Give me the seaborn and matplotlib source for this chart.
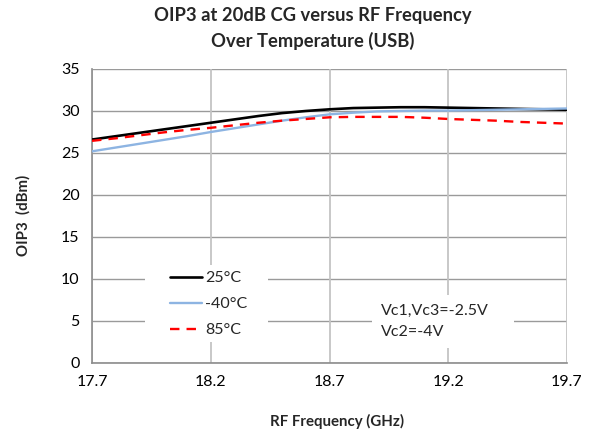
import matplotlib
matplotlib.use("Agg")
import matplotlib.pyplot as plt
import seaborn as sns
import pandas as pd
from matplotlib.patches import Rectangle
from matplotlib.ticker import MultipleLocator

freq = [17.7, 17.8, 17.9, 18.0, 18.1, 18.2, 18.3, 18.4, 18.5, 18.6, 18.7,
        18.8, 18.9, 19.0, 19.1, 19.2, 19.3, 19.4, 19.5, 19.6, 19.7]
oip3_25c = [26.6, 27.0, 27.4, 27.8, 28.2, 28.6, 29.0, 29.4, 29.75, 30.0, 30.2,
            30.35, 30.4, 30.45, 30.45, 30.4, 30.35, 30.3, 30.25, 30.2, 30.15]
oip3_m40c = [25.2, 25.65, 26.1, 26.55, 27.0, 27.5, 27.95, 28.4, 28.85, 29.25, 29.6,
             29.8, 29.95, 30.0, 30.05, 30.05, 30.1, 30.15, 30.2, 30.25, 30.3]
oip3_85c = [26.45, 26.75, 27.1, 27.45, 27.75, 28.0, 28.3, 28.6, 28.85, 29.05, 29.25,
            29.3, 29.3, 29.3, 29.2, 29.05, 28.95, 28.85, 28.7, 28.6, 28.5]
labels = ["25°C", "-40°C", "85°C"]
x_ticks = [17.7, 18.2, 18.7, 19.2, 19.7]
y_ticks = [0, 5, 10, 15, 20, 25, 30, 35]

sns.set_style("white")
plt.rcParams['font.family'] = ['Lato', 'DejaVu Sans']

fig = plt.figure(figsize=(5.97, 4.34), dpi=100)
ax = fig.add_axes([92/597, 1-363/434, (567-92)/597, (363-69)/434])

df = pd.DataFrame({"freq": freq, labels[0]: oip3_25c, labels[1]: oip3_m40c, labels[2]: oip3_85c})
styles = {labels[0]: dict(color="black", lw=1.9, ls="-"),
          labels[1]: dict(color="#8DB4E2", lw=1.7, ls="-"),
          labels[2]: dict(color="#FF0000", lw=1.7, ls=(0, (4, 3)))}
for lab in labels:
    sns.lineplot(data=df, x="freq", y=lab, ax=ax, label=lab, zorder=4, **styles[lab])

ax.set_xlim(17.7, 19.7)
ax.set_ylim(0, 35)
ax.set_xticks(x_ticks)
ax.set_xticklabels([f"{v:.1f}" for v in x_ticks])
ax.set_yticks(y_ticks)
ax.xaxis.set_minor_locator(MultipleLocator(0.1))
ax.yaxis.set_minor_locator(MultipleLocator(1))
ax.tick_params(axis="both", which="major", length=0, labelsize=11.5, pad=9, colors="black")
ax.tick_params(axis="both", which="minor", length=4, direction="in", color="#999999", width=1)

ax.grid(False)
for y in y_ticks:
    ax.axhline(y, color="#9a9a9a", lw=1.0, zorder=1)
for x in x_ticks:
    ax.axvline(x, color="#c4c4c4", lw=1.3, zorder=1)

for s in ["top", "right"]:
    ax.spines[s].set_visible(False)
for s in ["left", "bottom"]:
    ax.spines[s].set_color("#8c8c8c")
    ax.spines[s].set_linewidth(1.2)
    ax.spines[s].set_zorder(3)

ax.set_xlabel("")
ax.set_ylabel("")

# white boxes for legend and annotation
ax.add_patch(Rectangle(((145-92)/475, (363-342)/294), 123/475, 77/294,
                       transform=ax.transAxes, facecolor="white", edgecolor="none", zorder=2))
ax.add_patch(Rectangle(((372-92)/475, (363-348)/294), 142/475, 53/294,
                       transform=ax.transAxes, facecolor="white", edgecolor="none", zorder=2))

leg = ax.legend(loc="upper left", bbox_to_anchor=((172-92)/475 - 0.005, (363-271)/294),
                frameon=False, fontsize=11.5, handlelength=2.0, handletextpad=0.2,
                labelspacing=0.75, borderpad=0, borderaxespad=0)
leg.set_zorder(5)

ax.text((381-92)/475, (363-321.5)/294, "Vc1,Vc3=-2.5V\nVc2=-4V", transform=ax.transAxes,
        fontsize=11.5, va="center", ha="left", linespacing=1.6, zorder=5)

fig.text(313/597, 1-16/434, "OIP3 at 20dB CG versus RF Frequency", ha="center", va="center",
         fontsize=13.2, fontweight="bold")
fig.text(313/597, 1-41/434, "Over Temperature (USB)", ha="center", va="center",
         fontsize=13.2, fontweight="bold")
fig.text(337/597, 1-421/434, "RF Frequency (GHz)", ha="center", va="center",
         fontsize=10.8, fontweight="bold")
fig.text(23/597, 1-215/434, "OIP3  (dBm)", ha="center", va="center", rotation=90,
         fontsize=10.8, fontweight="bold")

fig.savefig("out.png", dpi=100)
